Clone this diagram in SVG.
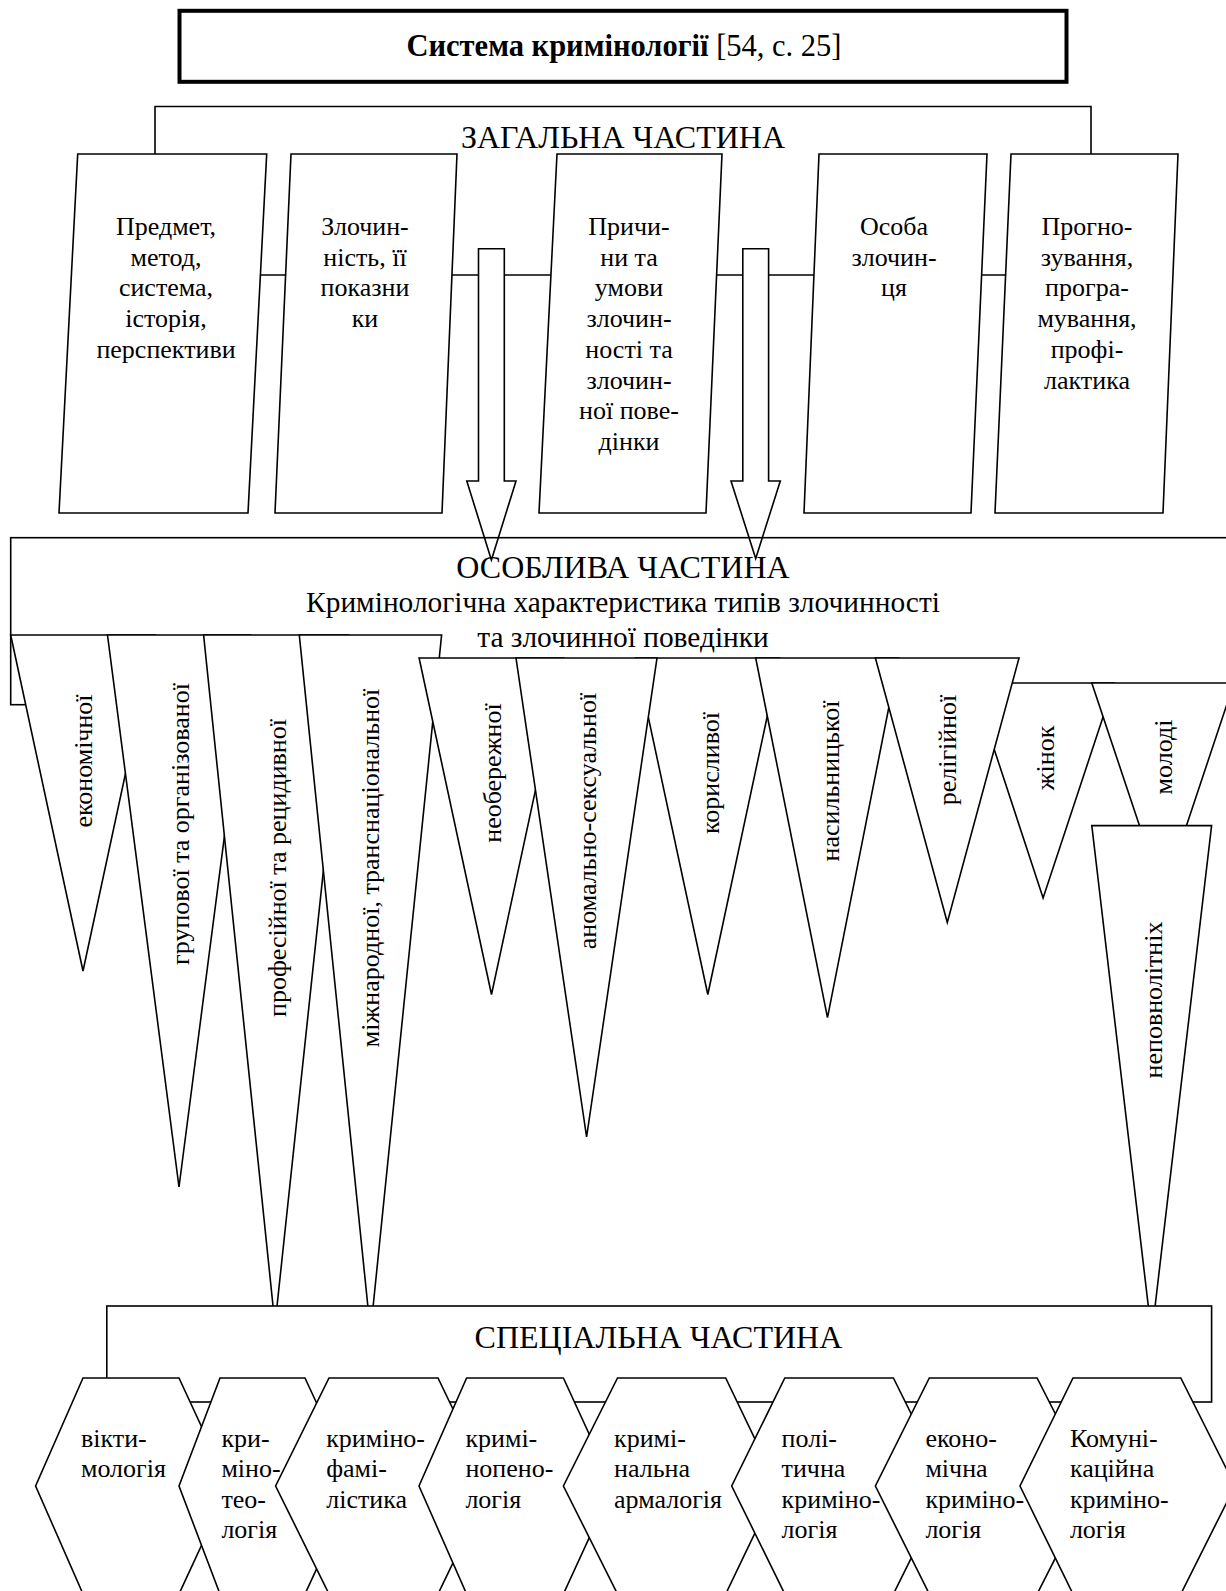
<svg xmlns="http://www.w3.org/2000/svg" width="1226" height="1591" viewBox="0 0 1226 1591">
<style>
.s{fill:#fff;stroke:#000;stroke-width:1.6}
.n{fill:none;stroke:#000;stroke-width:1.6}
text{font-family:"Liberation Serif","Times New Roman",serif;fill:#000}
.t{font-size:26px;text-anchor:middle}
.h{font-size:26px}
.big{font-size:32px;text-anchor:middle}
.sub{font-size:29.4px;text-anchor:middle}
</style>
<rect width="1226" height="1591" fill="#fff"/>
<g id="title">
<rect x="179.5" y="10.8" width="887" height="71" fill="#fff" stroke="#000" stroke-width="4"/>
<text x="624" y="56" style="font-size:30.5px;text-anchor:middle"><tspan font-weight="bold">Система кримінології</tspan> [54, с. 25]</text>
</g>
<g id="connectors">
<line class="n" x1="200" y1="275" x2="1080" y2="275"/>
</g>
<g id="zagalna">
<polyline class="n" points="155,154 155,106.5 1091,106.5 1091,154"/>
<text class="big" x="623" y="147.5">ЗАГАЛЬНА ЧАСТИНА</text>
</g>
<g id="box1">
<polygon class="s" points="77.7,154 266.7,154 248,513 59,513"/>
<text class="t"><tspan x="166" y="235">Предмет,</tspan><tspan x="166" y="265.7">метод,</tspan><tspan x="166" y="296.4">система,</tspan><tspan x="166" y="327.1">історія,</tspan><tspan x="166" y="357.8">перспективи</tspan></text>
</g>
<g id="box2">
<polygon class="s" points="291,154 457,154 442,513 275,513"/>
<text class="t"><tspan x="365" y="235">Злочин-</tspan><tspan x="365" y="265.7">ність, її</tspan><tspan x="365" y="296.4">показни</tspan><tspan x="365" y="327.1">ки</tspan></text>
</g>
<g id="box3">
<polygon class="s" points="557,154 722,154 706,513 539,513"/>
<text class="t"><tspan x="629" y="235">Причи-</tspan><tspan x="629" y="265.7">ни та</tspan><tspan x="629" y="296.4">умови</tspan><tspan x="629" y="327.1">злочин-</tspan><tspan x="629" y="357.8">ності та</tspan><tspan x="629" y="388.5">злочин-</tspan><tspan x="629" y="419.2">ної пове-</tspan><tspan x="629" y="449.9">дінки</tspan></text>
</g>
<g id="box4">
<polygon class="s" points="819,154 987,154 971,513 804,513"/>
<text class="t"><tspan x="894" y="235">Особа</tspan><tspan x="894" y="265.7">злочин-</tspan><tspan x="894" y="296.4">ця</tspan></text>
</g>
<g id="box5">
<polygon class="s" points="1011,154 1178,154 1163,513 995,513"/>
<text class="t"><tspan x="1087" y="235">Прогно-</tspan><tspan x="1087" y="265.7">зування,</tspan><tspan x="1087" y="296.4">програ-</tspan><tspan x="1087" y="327.1">мування,</tspan><tspan x="1087" y="357.8">профі-</tspan><tspan x="1087" y="388.5">лактика</tspan></text>
</g>
<g id="arrows">
<polygon class="s" points="478.5,248.7 504.3,248.7 504.3,481 516,481 491.4,560 466.8,481 478.5,481"/>
<polygon class="s" points="742.8,248.7 768.6,248.7 768.6,481 780.3,481 755.7,558.5 731,481 742.8,481"/>
</g>
<g id="osobliva">
<rect class="n" x="10.7" y="537.7" width="1240" height="167"/>
<text class="big" x="623" y="578">ОСОБЛИВА ЧАСТИНА</text>
<text class="sub" x="623" y="612">Кримінологічна характеристика типів злочинності</text>
<text class="sub" x="623" y="646.5">та злочинної поведінки</text>
</g>
<g id="t1"><polygon class="s" points="10.7,635 155.3,635 83,971"/><text class="t" transform="translate(83,761) rotate(-90)" y="9">економічної</text></g>
<g id="t2"><polygon class="s" points="107.5,635 250.5,635 179,1187"/><text class="t" transform="translate(180,824) rotate(-90)" y="9">групової та організованої</text></g>
<g id="t3"><polygon class="s" points="203.6,635 348.5,635 275,1325"/><text class="t" transform="translate(277,868) rotate(-90)" y="9">професійної та рецидивної</text></g>
<g id="t4"><polygon class="s" points="299.3,635 441.6,635 370.5,1332"/><text class="t" transform="translate(370,868) rotate(-90)" y="9">міжнародної, транснаціональної</text></g>
<g id="t5"><polygon class="s" points="419.1,658 563.9,658 491.5,994.5"/><text class="t" transform="translate(492,773) rotate(-90)" y="9">необережної</text></g>
<g id="t7"><polygon class="s" points="635.6,658 779.7,658 707.8,994.5"/><text class="t" transform="translate(710,773) rotate(-90)" y="9">корисливої</text></g>
<g id="t6"><polygon class="s" points="516,658 657,658 586.6,1137"/><text class="t" transform="translate(587,821) rotate(-90)" y="9">аномально-сексуальної</text></g>
<g id="t8"><polygon class="s" points="755.7,658 898.6,658 827.5,1017.7"/><text class="t" transform="translate(829.5,781) rotate(-90)" y="9">насильницької</text></g>
<g id="t10"><polygon class="s" points="972.4,683 1114.3,683 1043.1,898"/><text class="t" transform="translate(1045,758) rotate(-90)" y="9">жінок</text></g>
<g id="t9"><polygon class="s" points="875.4,658 1019,658 947.3,922.4"/><text class="t" transform="translate(947,750) rotate(-90)" y="9">релігійної</text></g>
<g id="t11"><polygon class="s" points="1091.8,683 1234,683 1163,896"/><text class="t" transform="translate(1163,757) rotate(-90)" y="9">молоді</text></g>
<g id="t12"><polygon class="s" points="1091.8,825.6 1211.6,825.6 1151.7,1335"/><text class="t" transform="translate(1153,1000) rotate(-90)" y="9">неповнолітніх</text></g>
<g id="spetsialna">
<rect class="s" x="106.8" y="1306" width="1104.8" height="96"/>
<text class="big" x="658.4" y="1347.5">СПЕЦІАЛЬНА ЧАСТИНА</text>
</g>
<g id="h1"><polygon class="s" points="83,1378 179,1378 229,1486 179,1594 83,1594 35.6,1486"/><text class="h"><tspan x="81" y="1447">вікти-</tspan><tspan x="81" y="1477">мологія</tspan></text></g>
<g id="h2"><polygon class="s" points="220,1378 305,1378 355,1486 305,1594 220,1594 179,1486"/><text class="h"><tspan x="221.4" y="1447">кри-</tspan><tspan x="221.4" y="1477">міно-</tspan><tspan x="221.4" y="1507.5">тео-</tspan><tspan x="221.4" y="1538">логія</tspan></text></g>
<g id="h3"><polygon class="s" points="329,1378 438,1378 490,1486 438,1594 329,1594 275.6,1486"/><text class="h"><tspan x="326.2" y="1447">криміно-</tspan><tspan x="326.2" y="1477">фамі-</tspan><tspan x="326.2" y="1507.5">лістика</tspan></text></g>
<g id="h4"><polygon class="s" points="466.6,1378 563.4,1378 613,1486 563.4,1594 466.6,1594 419,1486"/><text class="h"><tspan x="465.4" y="1447">кримі-</tspan><tspan x="465.4" y="1477">нопено-</tspan><tspan x="465.4" y="1507.5">логія</tspan></text></g>
<g id="h5"><polygon class="s" points="617.5,1378 725.7,1378 777.5,1486 725.7,1594 617.5,1594 563.4,1486"/><text class="h"><tspan x="614" y="1447">кримі-</tspan><tspan x="614" y="1477">нальна</tspan><tspan x="614" y="1507.5">армалогія</tspan></text></g>
<g id="h6"><polygon class="s" points="784.8,1378 893.4,1378 947,1486 893.4,1594 784.8,1594 731.7,1486"/><text class="h"><tspan x="781.6" y="1447">полі-</tspan><tspan x="781.6" y="1477">тична</tspan><tspan x="781.6" y="1507.5">криміно-</tspan><tspan x="781.6" y="1538">логія</tspan></text></g>
<g id="h7"><polygon class="s" points="929.3,1378 1037.1,1378 1092,1486 1037.1,1594 929.3,1594 875.4,1486"/><text class="h"><tspan x="925.4" y="1447">еконо-</tspan><tspan x="925.4" y="1477">мічна</tspan><tspan x="925.4" y="1507.5">криміно-</tspan><tspan x="925.4" y="1538">логія</tspan></text></g>
<g id="h8"><polygon class="s" points="1073,1378 1180.8,1378 1235,1486 1180.8,1594 1073,1594 1020,1486"/><text class="h"><tspan x="1069.9" y="1447">Комуні-</tspan><tspan x="1069.9" y="1477">каційна</tspan><tspan x="1069.9" y="1507.5">криміно-</tspan><tspan x="1069.9" y="1538">логія</tspan></text></g>
</svg>
